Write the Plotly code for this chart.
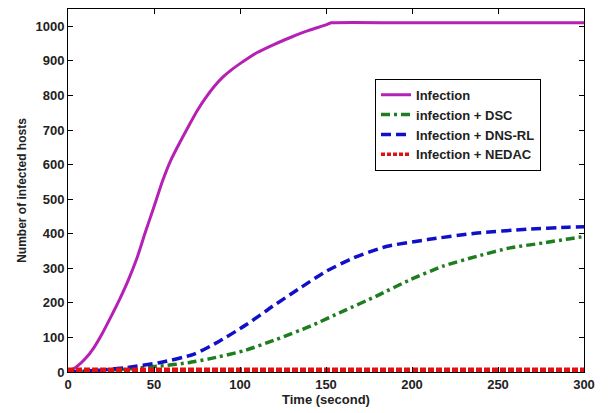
import plotly.graph_objects as go

# Data
t_inf = [0, 5, 10, 15, 20, 25, 30, 35, 40, 45, 50, 55, 60, 65, 70, 75, 80, 85, 90, 95, 100,
         110, 120, 130, 140, 150, 153, 200, 250, 300]
v_inf = [0, 15, 38, 70, 112, 160, 210, 265, 328, 405, 478, 553, 615, 664, 710, 755, 793, 826, 853, 874, 892,
         924, 948, 969, 988, 1004, 1010, 1010, 1010, 1010]

t_dsc = [0, 20, 35, 53, 70, 82, 102, 121, 141, 160, 179, 199, 218, 238, 257, 276, 291, 300]
v_dsc = [0, 4, 9, 17, 27, 38, 61, 94, 133, 176, 219, 267, 306, 335, 359, 373, 385, 392]

t_dns = [0, 20, 34, 53, 73, 88, 104, 119, 135, 150, 166, 185, 209, 238, 267, 291, 300]
v_dns = [0, 6, 13, 27, 51, 89, 138, 190, 243, 291, 330, 363, 383, 402, 413, 419, 420]

t_ned = [0, 50, 100, 150, 200, 250, 300]
v_ned = [0, 0, 0, 0, 0, 0, 0]

names = ["Infection", "infection + DSC", "Infection + DNS-RL", "Infection + NEDAC"]
x_ticks = [0, 50, 100, 150, 200, 250, 300]
y_ticks = [0, 100, 200, 300, 400, 500, 600, 700, 800, 900, 1000]

FONT = "Liberation Sans"
RED = "#E01010"

fig = go.Figure()
fig.add_trace(go.Scatter(x=t_inf, y=v_inf, mode="lines", name=names[0], legendrank=1,
                         line=dict(color="#B520B5", width=3, shape="spline", smoothing=0.5)))
fig.add_trace(go.Scatter(x=t_dsc, y=v_dsc, mode="lines", name=names[1], legendrank=2,
                         line=dict(color="#1E7D1E", width=3.5, dash="9px,4px,3px,4px", shape="spline", smoothing=0.6)))
fig.add_trace(go.Scatter(x=t_dns, y=v_dns, mode="lines", name=names[2], legendrank=3,
                         line=dict(color="#1010C8", width=3.5, dash="10px,5px", shape="spline", smoothing=0.6)))
# thick dotted line sitting on the x axis (half of it is clipped, as in the reference)
fig.add_trace(go.Scatter(x=t_ned, y=v_ned, mode="lines", name=names[3], showlegend=False,
                         line=dict(color=RED, width=9, dash="6px,2px")))
# legend entry for NEDAC with a normal line width
fig.add_trace(go.Scatter(x=[None], y=[None], mode="lines", name=names[3], legendrank=4,
                         line=dict(color=RED, width=3.5, dash="4px,2px")))

axis_common = dict(
    showline=True, linecolor="black", linewidth=1, mirror="ticks",
    ticks="inside", ticklen=5, tickcolor="black",
    showgrid=False, zeroline=False,
    tickfont=dict(family=FONT, size=13, color="#222", weight="bold"),
)

fig.update_xaxes(range=[0, 300], tickvals=x_ticks,
                 title=dict(text="Time (second)", standoff=2,
                            font=dict(family=FONT, size=13, color="#222", weight="bold")),
                 **axis_common)
fig.update_yaxes(range=[0, 1050], tickvals=y_ticks,
                 title=dict(text="Number of infected hosts", standoff=6,
                            font=dict(family=FONT, size=12, color="#222", weight="bold")),
                 **axis_common)

fig.update_layout(
    width=610, height=413,
    margin=dict(l=68, r=26, t=9, b=41),
    paper_bgcolor="white", plot_bgcolor="white",
    legend=dict(x=0.595, y=0.808, xanchor="left", yanchor="top",
                bordercolor="black", borderwidth=1, bgcolor="white",
                font=dict(family=FONT, size=13, color="#222", weight="bold"),
                tracegroupgap=0, itemwidth=30),
    showlegend=True,
)

fig.write_html("out.html")
